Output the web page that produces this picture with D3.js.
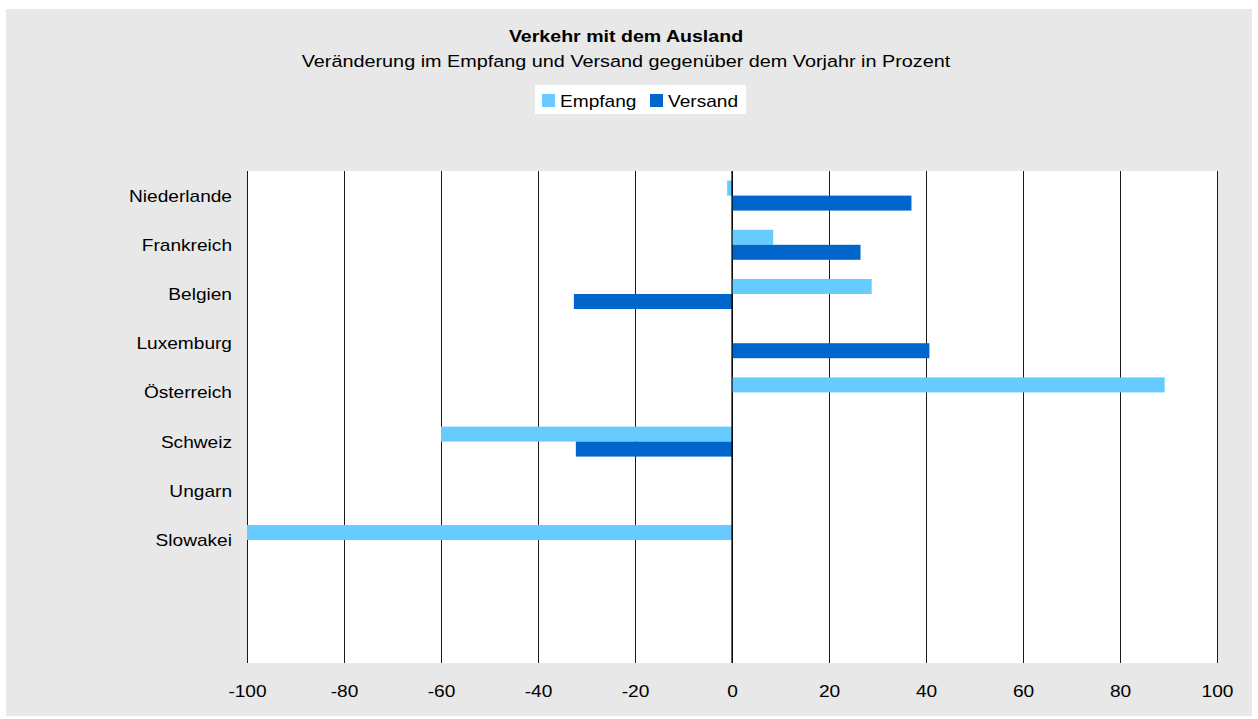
<!DOCTYPE html>
<meta charset="utf-8">
<head>
    <title>Verkehr mit dem Ausland</title>
    <style>
        body { margin: 0; background: #fff; }
        text { font-family: "Liberation Sans", Arial, sans-serif; fill: #000; }
    </style>
</head>
<body>

<!-- Load d3.js -->
<script src="https://d3js.org/d3.v7.min.js"></script>

<div id="my_dataviz"></div>

<script>

    // data
    var categories = ["Niederlande", "Frankreich", "Belgien", "Luxemburg", "Österreich", "Schweiz", "Ungarn", "Slowakei"]
    var seriesNames = ["Empfang", "Versand"]
    var empfang = [-1, 8.5, 28.8, null, 89.2, -60, null, -100]
    var versand = [37, 26.5, -32.6, 40.7, null, -32.2, null, null]
    var xTicks = [-100, -80, -60, -40, -20, 0, 20, 40, 60, 80, 100]
    var slots = 10   // the value axis has two empty rows at the bottom

    var empfangColor = "#66CCFF"
    var versandColor = "#0066CC"
    var stretch = 1.18   // text in the original is drawn a bit wide

    var W = 1258, H = 719;
    var margin = {top: 171, right: 40, bottom: 57, left: 247},
        width = 970,
        height = 492;

    var root = d3.select("#my_dataviz")
        .append("svg")
        .attr("width", W)
        .attr("height", H);

    // grey panel
    root.append("rect")
        .attr("x", 6).attr("y", 9)
        .attr("width", 1246).attr("height", 707)
        .style("fill", "#e8e8e8");

    // helper for stretched text
    function label(parent, x, y, txt, size, anchor, bold) {
        return parent.append("text")
            .attr("transform", "translate(" + x + "," + y + ") scale(" + stretch + ",1)")
            .style("font-size", size + "px")
            .style("font-weight", bold ? "bold" : "normal")
            .style("text-anchor", anchor)
            .text(txt);
    }

    // titles
    label(root, 626, 42, "Verkehr mit dem Ausland", 16.6, "middle", true);
    label(root, 626, 67, "Veränderung im Empfang und Versand gegenüber dem Vorjahr in Prozent", 16.8, "middle", false);

    // legend
    var legend = root.append("g").attr("transform", "translate(535,85)");
    legend.append("rect")
        .attr("width", 211).attr("height", 29)
        .style("fill", "white");
    var legendX = [7, 115];
    seriesNames.forEach(function(name, i) {
        legend.append("rect")
            .attr("x", legendX[i]).attr("y", 9)
            .attr("width", 13).attr("height", 13)
            .style("fill", i == 0 ? empfangColor : versandColor);
        label(legend, legendX[i] + 18, 22, name, 16.2, "start", false);
    });

    var svg = root.append("g")
        .attr("transform", "translate(" + margin.left + "," + margin.top + ")");

    // scales
    var x = d3.scaleLinear()
        .domain([-100, 100])
        .range([0, width]);

    var y = d3.scaleBand()
        .domain(d3.range(slots))
        .range([0, height]);

    var ySub = d3.scaleBand()
        .domain(seriesNames)
        .range([0, y.bandwidth()])
        .paddingInner(0)
        .paddingOuter(0.64);

    // plot area
    svg.append("rect")
        .attr("width", width)
        .attr("height", height)
        .style("fill", "white");

    // vertical grid
    const xAxisGrid = d3.axisBottom(x)
        .tickValues(xTicks)
        .tickSize(-height)
        .tickFormat('');
    var grid = svg.append("g")
        .attr("transform", "translate(0," + height + ")")
        .call(xAxisGrid);
    grid.select(".domain").remove();
    grid.selectAll("line").style("stroke", "#1a1a1a");

    // bars
    var rows = categories.map(function(c, i) {
        return {i: i, Empfang: empfang[i], Versand: versand[i]};
    });
    seriesNames.forEach(function(name) {
        svg.selectAll()
            .data(rows.filter(function(d) { return d[name] != null; }))
            .enter()
            .append("rect")
            .attr("x", function(d) { return x(Math.min(0, d[name])); })
            .attr("y", function(d) { return y(d.i) + ySub(name); })
            .attr("width", function(d) { return Math.abs(x(d[name]) - x(0)); })
            .attr("height", ySub.bandwidth())
            .style("fill", name == "Empfang" ? empfangColor : versandColor);
    });

    // zero line on top
    svg.append("line")
        .attr("x1", x(0)).attr("x2", x(0))
        .attr("y1", 0).attr("y2", height)
        .style("stroke", "black")
        .style("stroke-width", 1.2);

    // x labels (plain hyphen, not the unicode minus)
    var xAxis = svg.append("g")
        .attr("transform", "translate(0," + height + ")")
        .call(d3.axisBottom(x).tickValues(xTicks).tickSize(0)
            .tickFormat(function(d) { return String(d); }));
    xAxis.select(".domain").remove();
    xAxis.selectAll("text")
        .attr("y", null).attr("dy", null)
        .attr("transform", "translate(0,34) scale(" + stretch + ",1)")
        .style("font-size", "16.2px")
        .style("font-family", "Liberation Sans, Arial, sans-serif")
        .style("fill", "#000");

    // category labels
    var yAxis = svg.append("g")
        .call(d3.axisLeft(y).tickSize(0).tickFormat(function(i) { return categories[i] || ""; }));
    yAxis.select(".domain").remove();
    yAxis.selectAll("text")
        .attr("x", null).attr("dy", null)
        .attr("transform", "translate(-15,6) scale(" + stretch + ",1)")
        .style("font-size", "16.2px")
        .style("font-family", "Liberation Sans, Arial, sans-serif")
        .style("fill", "#000");

</script>
</body>
